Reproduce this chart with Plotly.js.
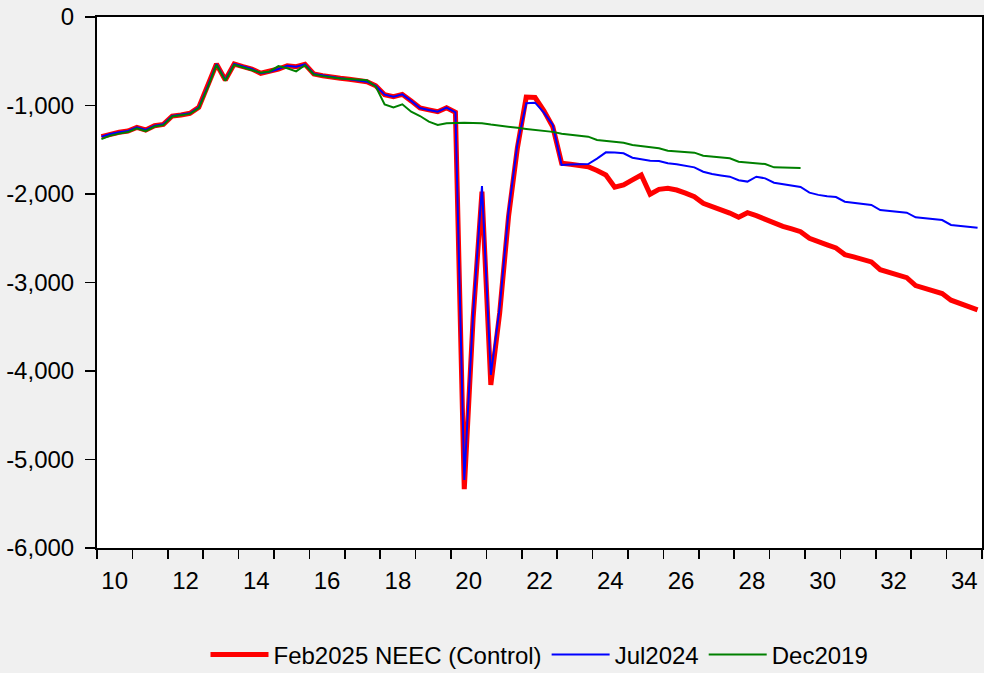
<!DOCTYPE html>
<html><head><meta charset="utf-8">
<script src="https://cdn.plot.ly/plotly-3.0.1.min.js"></script>
<style>html,body{margin:0;padding:0;background:#f0f0f0;}#chart{width:984px;height:673px;}</style>
</head><body><div id="chart"></div>
<script>
const startYear = 2010;
const seriesNames = ['Feb2025 NEEC (Control)', 'Jul2024', 'Dec2019'];

const feb2025 = [
 -1352,-1322,-1303,-1288, -1247,-1277,-1228,-1213, -1119,-1107,-1088,-1021,
 -787,-531,-712,-531, -561,-588,-636,-618, -588,-550,-561,-535,
 -644,-663,-682,-693, -704,-719,-731,-778, -878,-900,-874,-948,
 -1028,-1050,-1070,-1025, -1077,-5335,-3400,-1974, -4158,-3345,-2256,-1480,
 -905,-910,-1060,-1240, -1653,-1665,-1678,-1692, -1735,-1785,-1924,-1898,
 -1840,-1785,-2003,-1947, -1936,-1955,-1990,-2030, -2105,-2140,-2181,-2215,
 -2263,-2211,-2245,-2283, -2335,-2365,-2395,-2426, -2500,-2545,-2575,-2610,
 -2685,-2710,-2740,-2768, -2855,-2885,-2915,-2945, -3035,-3065,-3095,-3125,
 -3200,-3240,-3275,-3310
];
const jul2024 = [
 -1352,-1322,-1303,-1288, -1247,-1277,-1228,-1213, -1119,-1107,-1088,-1021,
 -787,-531,-712,-531, -561,-588,-636,-618, -588,-550,-561,-535,
 -644,-663,-682,-693, -704,-719,-731,-778, -878,-900,-874,-948,
 -1028,-1050,-1070,-1025, -1077,-5232,-3350,-1910, -4045,-3280,-2200,-1440,
 -975,-968,-1080,-1220, -1672,-1668,-1665,-1661, -1600,-1529,-1532,-1540,
 -1590,-1610,-1624,-1627, -1653,-1665,-1680,-1699, -1748,-1775,-1790,-1804,
 -1845,-1860,-1805,-1823, -1872,-1890,-1905,-1920, -1985,-2010,-2025,-2035,
 -2087,-2100,-2112,-2124, -2181,-2192,-2202,-2211, -2263,-2275,-2285,-2294,
 -2350,-2360,-2370,-2381
];
const dec2019 = [
 -1380,-1340,-1318,-1300, -1258,-1290,-1238,-1222, -1125,-1112,-1095,-1030,
 -800,-540,-720,-540, -570,-592,-630,-615, -555,-580,-615,-545,
 -650,-668,-685,-695, -700,-705,-715,-787, -987,-1021,-987,-1070,
 -1119,-1183,-1220,-1201, -1194,-1195,-1197,-1200, -1215,-1225,-1237,-1252,
 -1265,-1275,-1285,-1298, -1320,-1330,-1340,-1352, -1390,-1400,-1410,-1420,
 -1446,-1458,-1470,-1484, -1510,-1518,-1525,-1533, -1567,-1577,-1587,-1597,
 -1635,-1643,-1652,-1661, -1699,-1702,-1704,-1706
];

const yTickVals = [0, -1000, -2000, -3000, -4000, -5000, -6000];
const yTickText = ['0', '-1,000', '-2,000', '-3,000', '-4,000', '-5,000', '-6,000'];
const xTickText = ['10','12','14','16','18','20','22','24','26','28','30','32','34'];

function quarterX(n) {
  const x = [];
  for (let i = 0; i < n; i++) x.push(startYear + (i + 0.5) / 4);
  return x;
}
const xTickVals = xTickText.map(t => 2000 + parseInt(t, 10) + 0.5);
const yearBounds = [];
for (let y = startYear; y <= 2035; y++) yearBounds.push(y);

const font = {family: '"Liberation Sans", Arial, sans-serif', size: 24, color: '#000'};

const traces = [
  {x: quarterX(feb2025.length), y: feb2025, name: seriesNames[0], type: 'scatter', mode: 'lines',
   line: {color: '#ff0000', width: 5}},
  {x: quarterX(jul2024.length), y: jul2024, name: seriesNames[1], type: 'scatter', mode: 'lines',
   line: {color: '#0000ff', width: 2}},
  {x: quarterX(dec2019.length), y: dec2019, name: seriesNames[2], type: 'scatter', mode: 'lines',
   line: {color: '#008000', width: 2}}
];

const layout = {
  width: 984, height: 673,
  paper_bgcolor: '#f0f0f0', plot_bgcolor: '#ffffff',
  font: font,
  margin: {l: 97, r: 2, t: 17, b: 125, autoexpand: false},
  showlegend: true,
  legend: {orientation: 'h', x: 0.5, xanchor: 'center', y: -0.2015, yanchor: 'middle',
           itemwidth: 58, font: font, bgcolor: 'rgba(0,0,0,0)'},
  xaxis: {
    range: [2010, 2035], showgrid: false, zeroline: false,
    showline: true, linecolor: '#000', linewidth: 2, mirror: true,
    tickmode: 'array', tickvals: xTickVals, ticktext: xTickText, ticks: '',
    ticklabelstandoff: 10,
    minor: {tickmode: 'array', tickvals: yearBounds, ticks: 'outside', ticklen: 9, tickwidth: 1.5, tickcolor: '#000', showgrid: false},
    tickfont: font
  },
  yaxis: {
    range: [-6000, 0], showgrid: false, zeroline: false,
    showline: true, linecolor: '#000', linewidth: 2, mirror: true,
    tickmode: 'array', tickvals: yTickVals, ticktext: yTickText,
    ticks: 'outside', ticklen: 10, tickwidth: 1.5, tickcolor: '#000',
    ticklabelstandoff: 6,
    tickfont: font
  }
};

Plotly.newPlot('chart', traces, layout, {displayModeBar: false, staticPlot: true});
</script>
</body></html>
